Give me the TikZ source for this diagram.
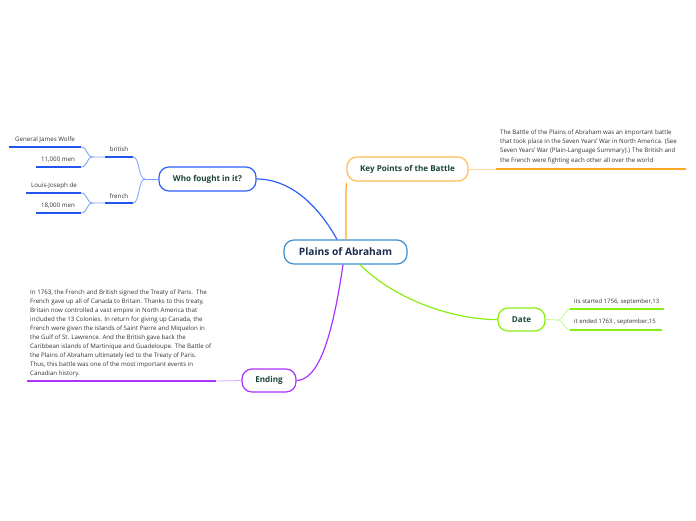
\documentclass[tikz,border=0pt]{standalone}
\usepackage{fontspec}
\setmainfont{Open Sans}
\definecolor{topictext}{HTML}{1B4536}
\definecolor{centraltext}{HTML}{1A2B4C}
\definecolor{centralborder}{HTML}{3D8FD0}
\definecolor{bluemain}{HTML}{3060FF}
\definecolor{bluelight}{HTML}{7A9CFF}
\definecolor{bluedark}{HTML}{2255EE}
\definecolor{orangemain}{HTML}{FFA623}
\definecolor{orangelight}{HTML}{FFD9A0}
\definecolor{orangeborder}{HTML}{FFBE55}
\definecolor{greenmain}{HTML}{88EE11}
\definecolor{greenlight}{HTML}{C4F590}
\definecolor{purplemain}{HTML}{AA33FF}
\definecolor{purplelight}{HTML}{DDAAFF}
\definecolor{smalltext}{HTML}{333333}
\begin{document}
\begin{tikzpicture}[x=1pt,y=-1pt,
  topic/.style={draw, rounded corners=10pt, line width=1.2pt, fill=white, inner sep=0pt,
    font=\fontsize{8.1}{9}\selectfont\bfseries, text=topictext},
  small/.style={font=\fontsize{6.2}{7}\selectfont, text=smalltext, inner sep=0pt},
  para/.style={font=\fontsize{6.15}{9.2}\selectfont, text=smalltext, inner sep=0pt, align=left, anchor=north west},
  conn/.style={line width=1.2pt},
  uline/.style={line width=1.6pt},
  thin/.style={line width=0.8pt}]
\useasboundingbox (0,0) rectangle (696,520);

% main topics
\node[topic, draw=centralborder, text=centraltext, minimum width=123pt, minimum height=24pt,
  font=\fontsize{10.2}{11}\selectfont\bfseries] (central) at (345.5,252) {Plains of Abraham};
\node[topic, draw=bluemain, minimum width=97pt, minimum height=24pt] (who) at (207.5,179) {Who fought in it?};
\node[topic, draw=orangeborder, minimum width=121pt, minimum height=24pt] (key) at (407.5,169) {Key Points of the Battle};
\node[topic, draw=greenmain, minimum width=47pt, minimum height=23pt] (date) at (521.5,319.5) {Date};
\node[topic, draw=purplemain, minimum width=54pt, minimum height=23pt] (ending) at (269,380.5) {Ending};

% main connectors
\draw[conn, bluemain] ([xshift=-8.5pt]central.north) .. controls (318,205) and (290,179) .. (who.east);
\draw[conn, orangemain] ([xshift=0.5pt]central.north) .. controls (346,200) and (346,175) .. ([yshift=-6pt]key.south west);
\draw[conn, greenmain] ([xshift=14.5pt]central.south) .. controls (395,300) and (455,320) .. (date.west);
\draw[conn, purplemain] ([xshift=-2.5pt]central.south) .. controls (332,340) and (318,380) .. (ending.east);

% Who fought in it? subtree
\coordinate (wj) at (145,179);
\coordinate (br1) at (105,157); \coordinate (br2) at (133,157);
\coordinate (fr1) at (105,203); \coordinate (fr2) at (133,203);
\node[small] (british) at (119,149) {british};
\node[small] (french) at (119,196) {french};
\draw[thin, bluelight] (who.west) -- (wj);
\draw[thin, bluelight] (wj) .. controls (138,179) and (140,157) .. (br2);
\draw[thin, bluelight] (wj) .. controls (138,179) and (140,203) .. (fr2);
\draw[uline, bluedark] (br1) -- (br2);
\draw[uline, bluedark] (fr1) -- (fr2);

\coordinate (bj) at (93,157);
\coordinate (fj) at (93,203);
\coordinate (w1) at (9,147); \coordinate (w2) at (81,147);
\coordinate (m1) at (36,167); \coordinate (m2) at (81,167);
\coordinate (l1) at (26,193); \coordinate (l2) at (81,193);
\coordinate (n1) at (36,213); \coordinate (n2) at (81,213);
\node[small] (wolfe) at (45,140) {General James Wolfe};
\node[small] (men11) at (58,160) {11,000 men};
\node[small] (louis) at (54,186) {Louis-Joseph de};
\node[small] (men18) at (58,206) {18,000 men};
\draw[thin, bluelight] (br1) -- (bj) .. controls (86,157) and (88,147) .. (w2);
\draw[thin, bluelight] (bj) .. controls (86,157) and (88,167) .. (m2);
\draw[thin, bluelight] (fr1) -- (fj) .. controls (86,203) and (88,193) .. (l2);
\draw[thin, bluelight] (fj) .. controls (86,203) and (88,213) .. (n2);
\draw[uline, bluedark] (w1) -- (w2);
\draw[uline, bluedark] (m1) -- (m2);
\draw[uline, bluedark] (l1) -- (l2);
\draw[uline, bluedark] (n1) -- (n2);

% Key points
\node[para] (kptext) at (500,129.5) {The Battle of the Plains of Abraham was an important battle\\
that took place in the Seven Years' War in North America. (See\\
Seven Years' War (Plain-Language Summary).) The British and\\
the French were fighting each other all over the world};
\coordinate (k1) at (496,169); \coordinate (k2) at (686,169);
\draw[thin, orangelight] (key.east) -- (k1);
\draw[uline, orangemain] (k1) -- (k2);

% Date
\coordinate (dj) at (558,320);
\coordinate (d1a) at (570,309); \coordinate (d1b) at (664,309);
\coordinate (d2a) at (570,330); \coordinate (d2b) at (662,330);
\node[small, anchor=west, font=\fontsize{6}{7}\selectfont] (started) at (574,301.5) {its started 1756, september,13};
\node[small, anchor=west, font=\fontsize{6}{7}\selectfont] (ended) at (574,321.5) {it ended 1763 , september,15};
\draw[thin, greenlight] (date.east) -- (dj);
\draw[thin, greenlight] (dj) .. controls (563,320) and (565,309) .. (d1a);
\draw[thin, greenlight] (dj) .. controls (563,320) and (565,330) .. (d2a);
\draw[uline, greenmain] (d1a) -- (d1b);
\draw[uline, greenmain] (d2a) -- (d2b);

% Ending
\node[para, font=\fontsize{6.15}{8.9}\selectfont] (endtext) at (30,290) {In 1763, the French and British signed the Treaty of Paris.\ \ The\\
French gave up all of Canada to Britain. Thanks to this treaty,\\
Britain now controlled a vast empire in North America that\\
included the 13 Colonies. In return for giving up Canada, the\\
French were given the islands of Saint Pierre and Miquelon in\\
the Gulf of St. Lawrence. And the British gave back the\\
Caribbean islands of Martinique and Guadeloupe. The Battle of\\
the Plains of Abraham ultimately led to the Treaty of Paris.\\
Thus, this battle was one of the most important events in\\
Canadian history.};
\coordinate (e1) at (27,381); \coordinate (e2) at (216,381);
\draw[thin, purplelight] (ending.west) -- (e2);
\draw[uline, purplemain] (e1) -- (e2);
\end{tikzpicture}
\end{document}
